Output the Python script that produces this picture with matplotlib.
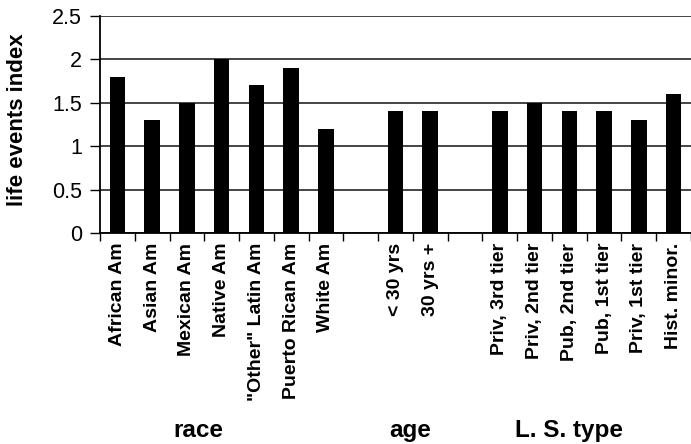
import numpy as np
import matplotlib
matplotlib.use("Agg")
import matplotlib.pyplot as plt

plt.rcParams['font.family'] = ['Liberation Sans', 'DejaVu Sans']

race_labels = ["African Am", "Asian Am", "Mexican Am", "Native Am",
               '"Other" Latin Am', "Puerto Rican Am", "White Am"]
race_vals = [1.8, 1.3, 1.5, 2.0, 1.7, 1.9, 1.2]
age_labels = ["< 30 yrs", "30 yrs +"]
age_vals = [1.4, 1.4]
ls_labels = ["Priv, 3rd tier", "Priv, 2nd tier", "Pub, 2nd tier",
             "Pub, 1st tier", "Priv, 1st tier", "Hist. minor."]
ls_vals = [1.4, 1.5, 1.4, 1.4, 1.3, 1.6]

# slots, with an empty one between groups
labels = race_labels + [""] + age_labels + [""] + ls_labels
vals = race_vals + [np.nan] + age_vals + [np.nan] + ls_vals
x = np.arange(len(labels))

fig = plt.figure(figsize=(6.91, 4.44), dpi=100)
ax = fig.add_axes([100/691, 1-233/444, 591/691, 217/444])

ax.set_axisbelow(True)
ax.yaxis.grid(True, color="#444444", lw=1.4)
ax.bar(x, vals, width=0.45, color="black", zorder=3)

ax.set_xlim(-0.5, len(labels)-0.5)
ax.set_ylim(0, 2.5)
ax.set_yticks([0, 0.5, 1, 1.5, 2, 2.5])
ax.set_yticklabels(["0", "0.5", "1", "1.5", "2", "2.5"], fontsize=15.5)
ax.set_xticks(x)
ax.set_xticklabels(labels, rotation=90, fontsize=14, fontweight="bold")
ax.tick_params(axis="x", length=0, pad=7)
ax.set_xticks(np.arange(len(labels)+1)-0.5, minor=True)
ax.tick_params(axis="x", which="minor", length=6, width=1.0)
ax.tick_params(axis="y", length=7, width=1.0, pad=6)
for s in ["top", "right"]:
    ax.spines[s].set_visible(False)
ax.spines["left"].set_linewidth(1.3)
ax.spines["bottom"].set_linewidth(1.3)

ax.set_ylabel("life events index", fontsize=16, fontweight="bold")
ax.yaxis.set_label_coords(-72/591, 0.52)

for name, xp in [("race", 198), ("age", 410), ("L. S. type", 569)]:
    fig.text(xp/691, 1-430/444, name, ha="center", va="center",
             fontsize=17.5, fontweight="bold")

fig.savefig("out.png", dpi=100)
